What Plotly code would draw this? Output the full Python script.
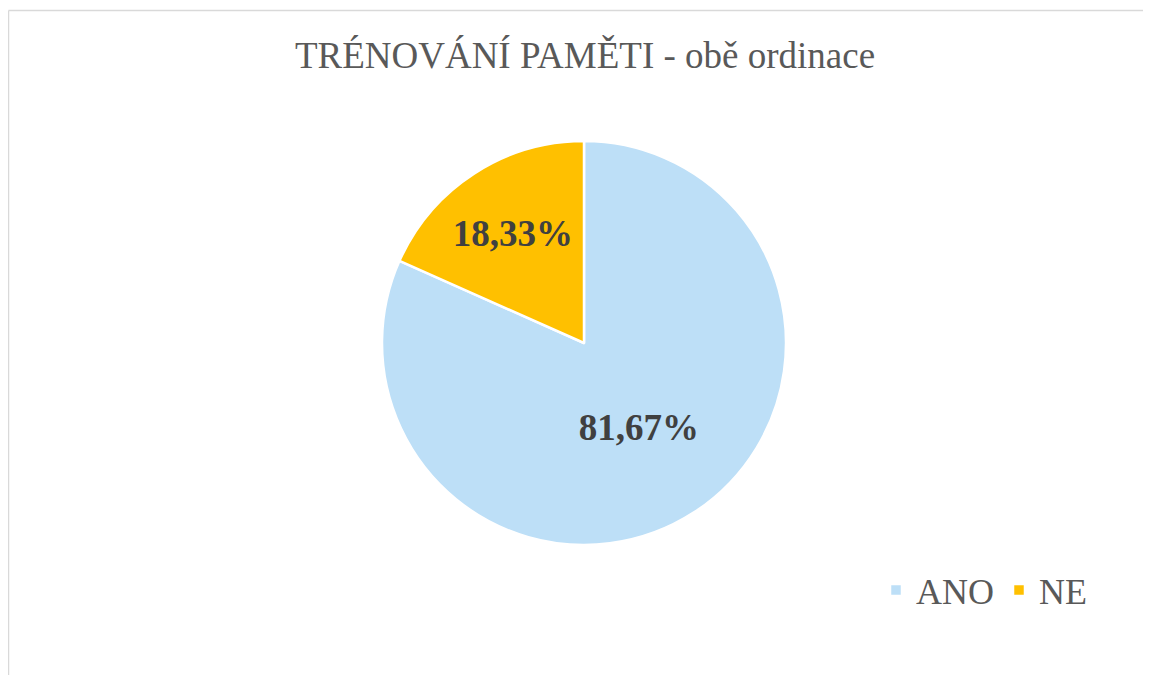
import plotly.graph_objects as go

categories = ["ANO", "NE"]
values = [81.67, 18.33]
colors = ["#BDDFF7", "#FFC000"]
labels_text = [f"{v:.2f}%".replace(".", ",") for v in values]

W, H = 1151, 675
OFF = 8  # page body margin
SERIF = "Liberation Serif, Times New Roman, DejaVu Serif, serif"

def px(x):
    return (x - OFF) / W

def py(y):
    return 1 - (y - OFF) / H

fig = go.Figure(go.Pie(
    labels=categories,
    values=values,
    text=labels_text,
    texttemplate="%{text}",
    textposition="inside",
    insidetextorientation="horizontal",
    sort=False,
    direction="clockwise",
    rotation=0,
    marker=dict(colors=colors, line=dict(color="white", width=2.5)),
    textfont=dict(family=SERIF, size=37, color="#404040", weight="bold"),
    domain=dict(x=[px(382), px(786)], y=[py(545), py(141)]),
    hoverinfo="label+percent",
))

fig.update_layout(
    width=W, height=H,
    margin=dict(l=0, r=0, t=0, b=0),
    paper_bgcolor="white",
    font=dict(family=SERIF, color="#595959"),
    title=dict(text="TRÉNOVÁNÍ PAMĚTI - obě ordinace", x=px(585), xanchor="center",
               y=py(55), yanchor="middle",
               font=dict(family=SERIF, size=37, color="#595959", weight="normal")),
    legend=dict(orientation="h", x=px(876), xanchor="left", y=py(590), yanchor="middle",
                font=dict(family=SERIF, size=36, color="#595959", weight="normal"),
                bgcolor="rgba(0,0,0,0)", itemwidth=30),
    shapes=[
        dict(type="line", xref="paper", yref="paper", x0=px(8.5), x1=1.2, y0=py(10.5), y1=py(10.5),
             line=dict(color="#D9D9D9", width=1.5)),
        dict(type="line", xref="paper", yref="paper", x0=px(8.5), x1=px(8.5), y0=py(10.5), y1=-0.2,
             line=dict(color="#D9D9D9", width=1.5)),
    ],
)

fig.write_html("out.html")
